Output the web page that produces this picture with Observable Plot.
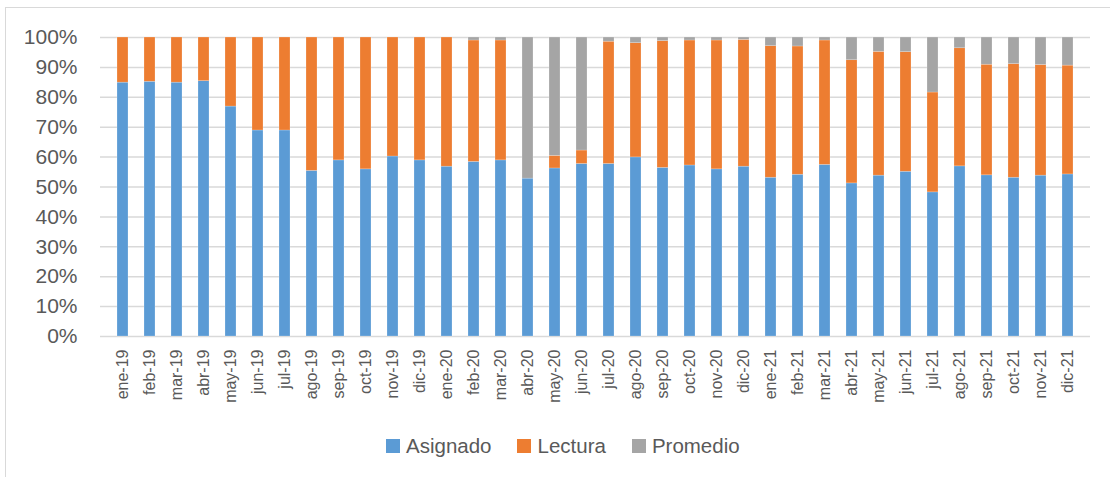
<!DOCTYPE html>
<html>
<head>
<meta charset="utf-8">
<script src="https://cdn.jsdelivr.net/npm/d3@7"></script>
<script src="https://cdn.jsdelivr.net/npm/@observablehq/plot@0.6"></script>
<style>
  html, body { margin: 0; padding: 0; background: #fff; }
  body { width: 1110px; height: 477px; position: relative; overflow: hidden; font-family: "Liberation Sans", Arial, sans-serif; }
  #frame { position: absolute; left: 5px; top: 7px; width: 1200px; height: 600px; border-left: 1.5px solid #d9d9d9; border-top: 1.5px solid #d9d9d9; }
  #chart { position: absolute; left: 0; top: 0; }
  #legend { position: absolute; left: 386px; top: 434px; display: flex; align-items: center; font-size: 20.5px; color: #595959; }
  #legend .item { display: flex; align-items: center; margin-right: 26px; }
  #legend .sw { width: 14px; height: 14px; margin-right: 6px; }
</style>
</head>
<body>
<div id="frame"></div>
<div id="chart"></div>
<div id="legend"></div>
<script>
const months = ["ene-19","feb-19","mar-19","abr-19","may-19","jun-19","jul-19","ago-19","sep-19","oct-19","nov-19","dic-19",
  "ene-20","feb-20","mar-20","abr-20","may-20","jun-20","jul-20","ago-20","sep-20","oct-20","nov-20","dic-20",
  "ene-21","feb-21","mar-21","abr-21","may-21","jun-21","jul-21","ago-21","sep-21","oct-21","nov-21","dic-21"];
const asignado = [84.9,85.2,84.9,85.4,76.9,68.9,68.9,55.4,58.9,55.9,60.2,58.9,
  56.8,58.4,58.9,52.8,56.2,57.7,57.7,59.9,56.4,57.2,55.9,56.8,
  53.1,54.1,57.4,51.2,53.8,55.1,48.2,56.9,53.9,53.1,53.8,54.2];
const lectura = [15.1,14.8,15.1,14.6,23.1,31.1,31.1,44.6,41.1,44.1,39.8,41.1,
  43.2,40.6,40.1,0,4.2,4.5,40.9,38.2,42.4,41.8,43.1,42.4,
  44.0,42.9,41.6,41.2,41.4,40.0,33.4,39.5,37.0,38.0,37.0,36.4];
const promedio = [0,0,0,0,0,0,0,0,0,0,0,0,
  0,1.0,1.0,47.2,39.6,37.8,1.4,1.9,1.2,1.0,1.0,0.8,
  2.9,3.0,1.0,7.6,4.8,4.9,18.4,3.6,9.1,8.9,9.2,9.4];
const seriesNames = ["Asignado","Lectura","Promedio"];
const seriesColors = ["#5B9BD5","#ED7D31","#A5A5A5"];
const yTicks = [0,10,20,30,40,50,60,70,80,90,100];

const data = [];
months.forEach((m, i) => {
  data.push({month: m, serie: "Asignado", value: asignado[i]});
  data.push({month: m, serie: "Lectura", value: lectura[i]});
  data.push({month: m, serie: "Promedio", value: promedio[i]});
});

const chart = Plot.plot({
  width: 1110,
  height: 425,
  marginLeft: 100,
  marginRight: 20,
  marginTop: 37,
  marginBottom: 89,
  style: {fontFamily: "'Liberation Sans', Arial, sans-serif", color: "#595959", background: "transparent"},
  x: {domain: months, padding: 0.58, label: null, tickSize: 0, tickPadding: 13, tickRotate: -90},
  y: {domain: [0, 100], ticks: yTicks, tickFormat: d => d + "%", label: null, tickSize: 0, tickPadding: 23},
  color: {domain: seriesNames, range: seriesColors},
  marks: [
    Plot.ruleY(yTicks, {stroke: "#d9d9d9", strokeWidth: 1.5}),
    Plot.barY(data, {x: "month", y: "value", fill: "serie", order: seriesNames, stroke: "#ffffff", strokeOpacity: 0.35, strokeWidth: 0.6}),
    Plot.axisX({tickSize: 0, tickPadding: 13, tickRotate: -90, fontSize: 16, fill: "#595959"}),
    Plot.axisY({ticks: yTicks, tickFormat: d => d + "%", tickSize: 0, tickPadding: 23, fontSize: 21, fill: "#595959"})
  ]
});
document.getElementById("chart").appendChild(chart);

const legend = document.getElementById("legend");
seriesNames.forEach((n, i) => {
  const it = document.createElement("div");
  it.className = "item";
  it.innerHTML = `<span class="sw" style="background:${seriesColors[i]}"></span><span>${n}</span>`;
  legend.appendChild(it);
});
</script>
</body>
</html>
